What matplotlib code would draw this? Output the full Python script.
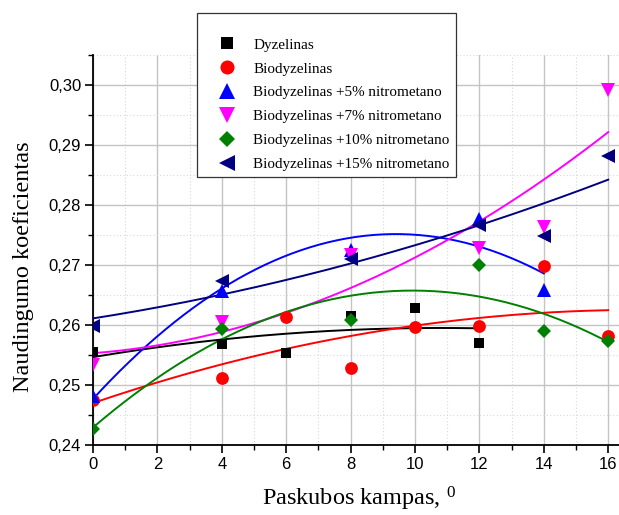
import numpy as np
import matplotlib
matplotlib.use("Agg")
import matplotlib.pyplot as plt
from matplotlib.ticker import MultipleLocator, FuncFormatter

# ---------------- data ----------------
x_dyz = [0, 4, 6, 8, 10, 12]
y_dyz = [0.2555, 0.2568, 0.2554, 0.2615, 0.2629, 0.2570]

x_bio = [0, 4, 6, 8, 10, 12, 14, 16]
y_bio = [0.2476, 0.2512, 0.2613, 0.2529, 0.2597, 0.2598, 0.2698, 0.2582]

x_n5 = [0, 4, 8, 12, 14]
y_n5 = [0.2482, 0.2657, 0.2726, 0.2777, 0.2659]

x_n7 = [0, 4, 8, 12, 14, 16]
y_n7 = [0.2534, 0.2606, 0.2717, 0.2728, 0.2764, 0.2992]

x_n10 = [0, 4, 8, 12, 14, 16]
y_n10 = [0.2427, 0.2594, 0.2609, 0.2700, 0.2591, 0.2573]

x_n15 = [0, 4, 8, 12, 14, 16]
y_n15 = [0.2598, 0.2673, 0.2710, 0.2767, 0.2748, 0.2881]

labels = ["Dyzelinas", "Biodyzelinas", "Biodyzelinas +5% nitrometano",
          "Biodyzelinas +7% nitrometano", "Biodyzelinas +10% nitrometano",
          "Biodyzelinas +15% nitrometano"]
x_label = "Paskubos kampas, $^{0}$"
y_label = "Naudingumo koeficientas"

# ---------------- style ----------------
plt.rcParams['mathtext.fontset'] = 'custom'
plt.rcParams['mathtext.rm'] = 'Liberation Serif'
plt.rcParams['mathtext.it'] = 'Liberation Serif'

fig = plt.figure(figsize=(6.19, 5.15), dpi=100)
W, H = 619, 515
ax = fig.add_axes([93 / W, (H - 445.3) / H, (W - 93) / W, (445.3 - 55) / H])

series = [
    (x_dyz, y_dyz, 's', '#000000', 7.8),
    (x_bio, y_bio, 'o', '#ff0000', 9.2),
    (x_n5, y_n5, '^', '#0000ff', 10.2),
    (x_n7, y_n7, 'v', '#ff00ff', 10.2),
    (x_n10, y_n10, 'D', '#008000', 7.6),
    (x_n15, y_n15, '<', '#000080', 10.2),
]

handles = []
for (xs, ys, mk, col, ms), lab in zip(series, labels):
    xs = np.asarray(xs, float)
    ys = np.asarray(ys, float)
    coef = np.polyfit(xs, ys, 2)
    xf = np.linspace(xs.min(), xs.max(), 200)
    ax.plot(xf, np.polyval(coef, xf), color=col, lw=1.4, zorder=3)
    h, = ax.plot(xs, ys, linestyle='none', marker=mk, color=col, ms=ms,
                 markeredgewidth=0, zorder=4, label=lab)
    handles.append(h)

ax.set_xlim(0, (W - 93) / 32.2)
ax.set_ylim(0.24, 0.305)

ax.xaxis.set_major_locator(MultipleLocator(2))
ax.xaxis.set_minor_locator(MultipleLocator(1))
ax.yaxis.set_major_locator(MultipleLocator(0.01))
ax.yaxis.set_minor_locator(MultipleLocator(0.005))
ax.yaxis.set_major_formatter(FuncFormatter(lambda v, p: f"{v:.2f}".replace('.', ',')))

ax.grid(which='major', color='#c4c4c4', lw=1.0, zorder=0)
ax.grid(which='minor', color='#d8d8d8', lw=0.8, ls=(0, (1, 2)), zorder=0)
ax.set_axisbelow(True)

for s in ['top', 'right']:
    ax.spines[s].set_visible(False)
for s in ['left', 'bottom']:
    ax.spines[s].set_linewidth(1.3)

ax.tick_params(which='major', direction='out', length=5.5, width=1.2,
               labelsize=12, pad=3)
ax.tick_params(which='minor', direction='out', length=3.5, width=1.0)
for t in ax.get_xticklabels() + ax.get_yticklabels():
    t.set_family('Liberation Sans')

ax.set_xlabel(x_label, family='Liberation Serif', fontsize=17.5)
ax.xaxis.set_label_coords((359 - 93) / (W - 93), -(485 - 445.3) / (445.3 - 55))
ax.set_ylabel(y_label, family='Liberation Serif', fontsize=17.5)
ax.yaxis.set_label_coords(-(93 - 34) / (W - 93), (445.3 - 267) / (445.3 - 55))

leg = fig.legend(handles=handles, labels=labels, loc='upper left',
                 bbox_to_anchor=(197 / W, 1 - 13 / H), borderaxespad=0,
                 prop={'family': 'Liberation Serif', 'size': 10.9},
                 frameon=True, fancybox=False, edgecolor='#333333',
                 framealpha=1, borderpad=0.38, handlelength=3.2,
                 handletextpad=0.15, labelspacing=0.68, markerscale=1.1,
                 title=' ', title_fontsize=6.5)
leg.get_frame().set_linewidth(0.9)

fig.savefig("out.png", dpi=100)
